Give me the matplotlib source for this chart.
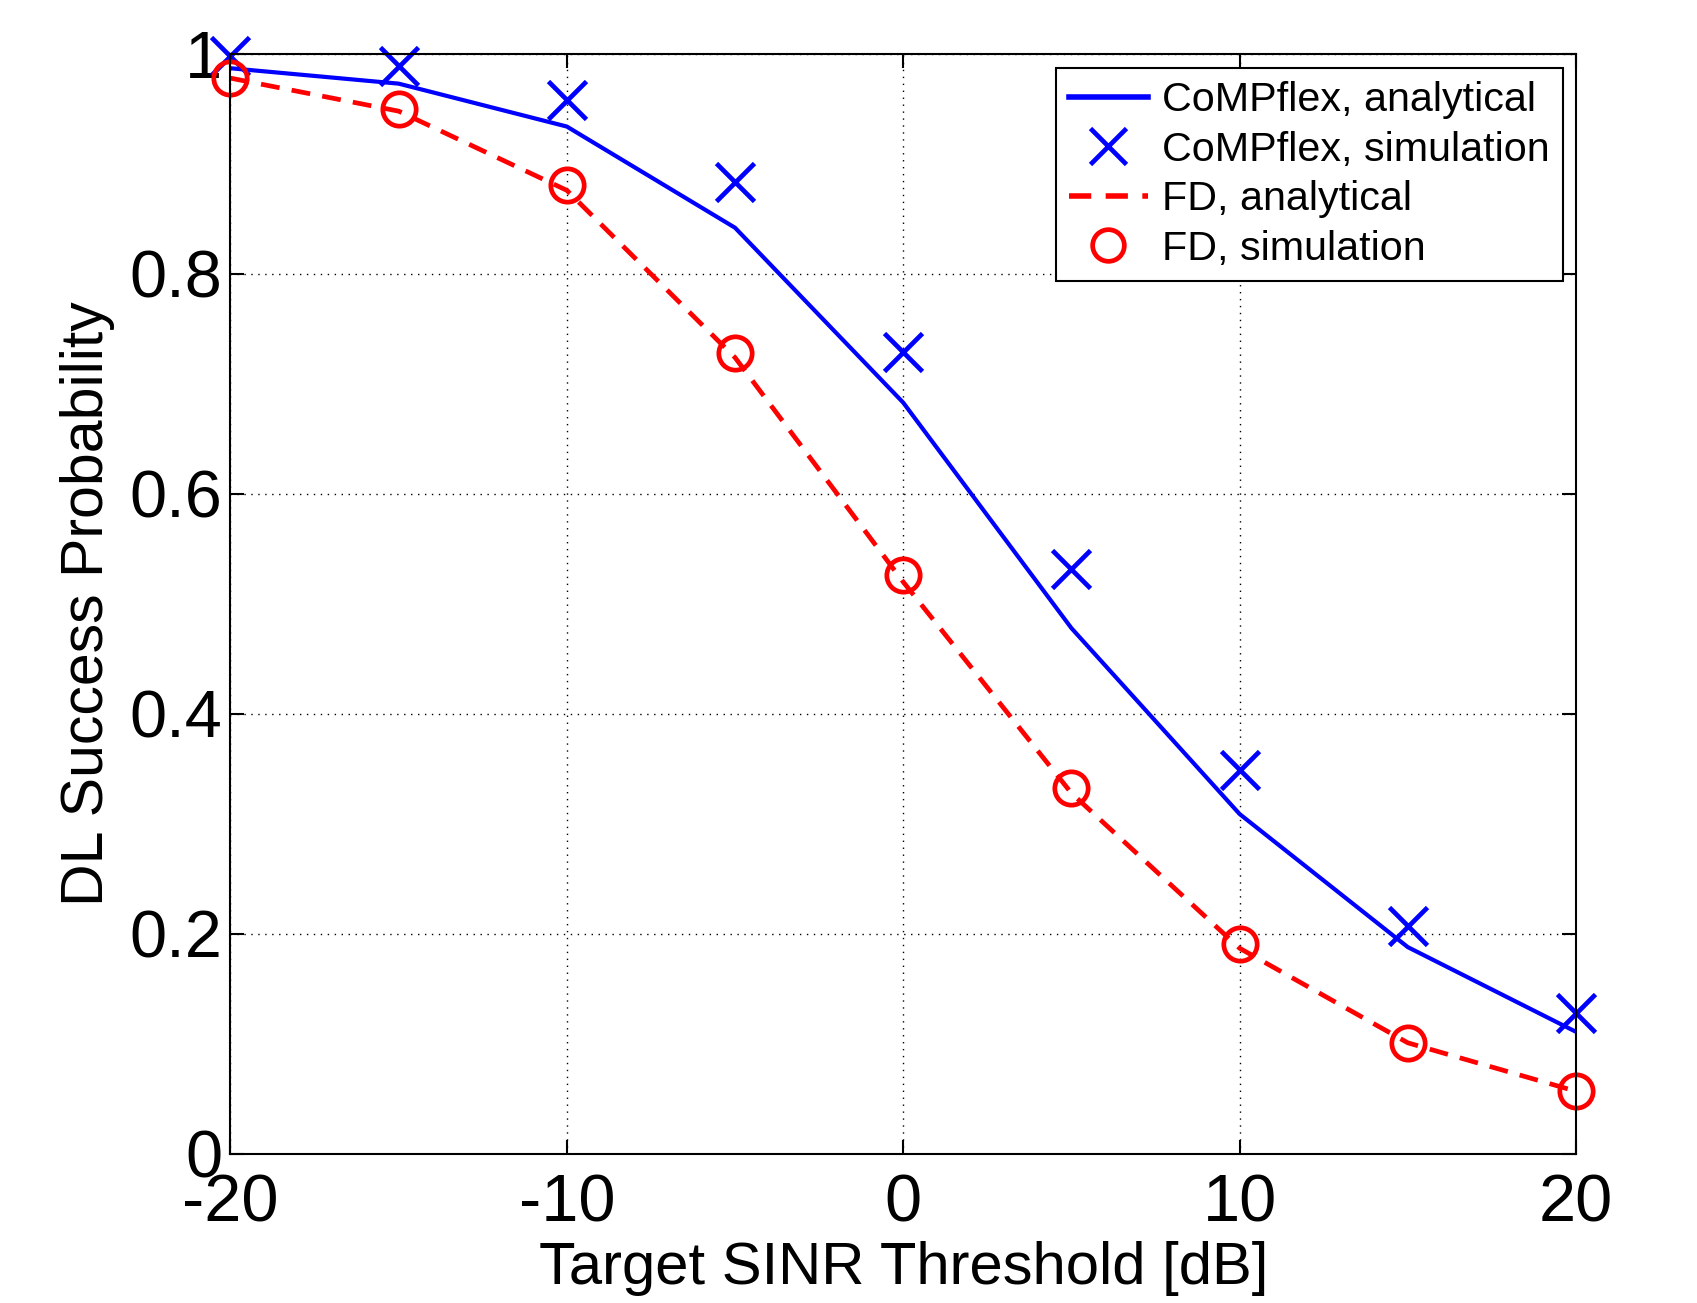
import matplotlib
matplotlib.use("Agg")
from matplotlib import pyplot as plt

plt.rcParams["font.family"] = ["Liberation Sans", "DejaVu Sans"]
plt.rcParams["axes.unicode_minus"] = False

# SINR thresholds [dB]
sinr_db = [-20, -15, -10, -5, 0, 5, 10, 15, 20]

comp_analytical = [0.987, 0.973, 0.934, 0.842, 0.683, 0.478, 0.309, 0.188, 0.111]
comp_simulation = [0.998, 0.989, 0.958, 0.884, 0.729, 0.532, 0.349, 0.207, 0.128]
fd_analytical = [0.978, 0.948, 0.876, 0.724, 0.520, 0.328, 0.187, 0.101, 0.057]
fd_simulation = [0.978, 0.950, 0.881, 0.728, 0.526, 0.333, 0.191, 0.101, 0.057]

x_ticks = [-20, -10, 0, 10, 20]
y_ticks = [0, 0.2, 0.4, 0.6, 0.8, 1.0]
y_ticklabels = ["0", "0.2", "0.4", "0.6", "0.8", "1"]

fig = plt.figure(figsize=(16.97, 13.03), dpi=100)
ax = fig.add_axes([0.1358, 0.1144, 0.7929, 0.8442])

ax.plot(sinr_db, comp_analytical, color="#0000ff", lw=3.0, label="CoMPflex, analytical")
ax.plot(sinr_db, comp_simulation, ls="none", marker="x", ms=28, mew=3.4,
        color="#0000ff", label="CoMPflex, simulation", clip_on=False)
ax.plot(sinr_db, fd_analytical, color="#ff0000", lw=3.4, ls=(0, (4, 2.6)),
        label="FD, analytical")
ax.plot(sinr_db, fd_simulation, ls="none", marker="o", ms=24, mew=3.4,
        mfc="none", mec="#ff0000", label="FD, simulation", clip_on=False)

ax.set_xlim(-20, 20)
ax.set_ylim(0, 1)
ax.set_xticks(x_ticks)
ax.set_yticks(y_ticks)
ax.set_yticklabels(y_ticklabels)
ax.grid(True, color="black", ls=(0, (1, 4)), lw=1.0)
ax.tick_params(direction="in", length=10, width=1.5, labelsize=48,
               top=True, right=True)
ax.tick_params(axis="x", pad=14)
ax.tick_params(axis="y", pad=6)
for sp in ax.spines.values():
    sp.set_linewidth(1.5)

ax.set_xlabel("Target SINR Threshold [dB]", fontsize=43, labelpad=4)
ax.set_ylabel("DL Success Probability", fontsize=42.5, labelpad=10)

leg = ax.legend(loc="upper right", bbox_to_anchor=(0.921, 0.9478),
                bbox_transform=fig.transFigure, borderaxespad=0,
                fontsize=29.7, fancybox=False, framealpha=1, edgecolor="black",
                handlelength=1.9, handletextpad=0.35, labelspacing=0.28,
                borderpad=0.32, markerscale=0.95)
leg.get_frame().set_linewidth(1.5)
for line in leg.get_lines():
    if line.get_linestyle() != "None":
        line.set_linewidth(4.0)

fig.savefig("out.png", dpi=100)
